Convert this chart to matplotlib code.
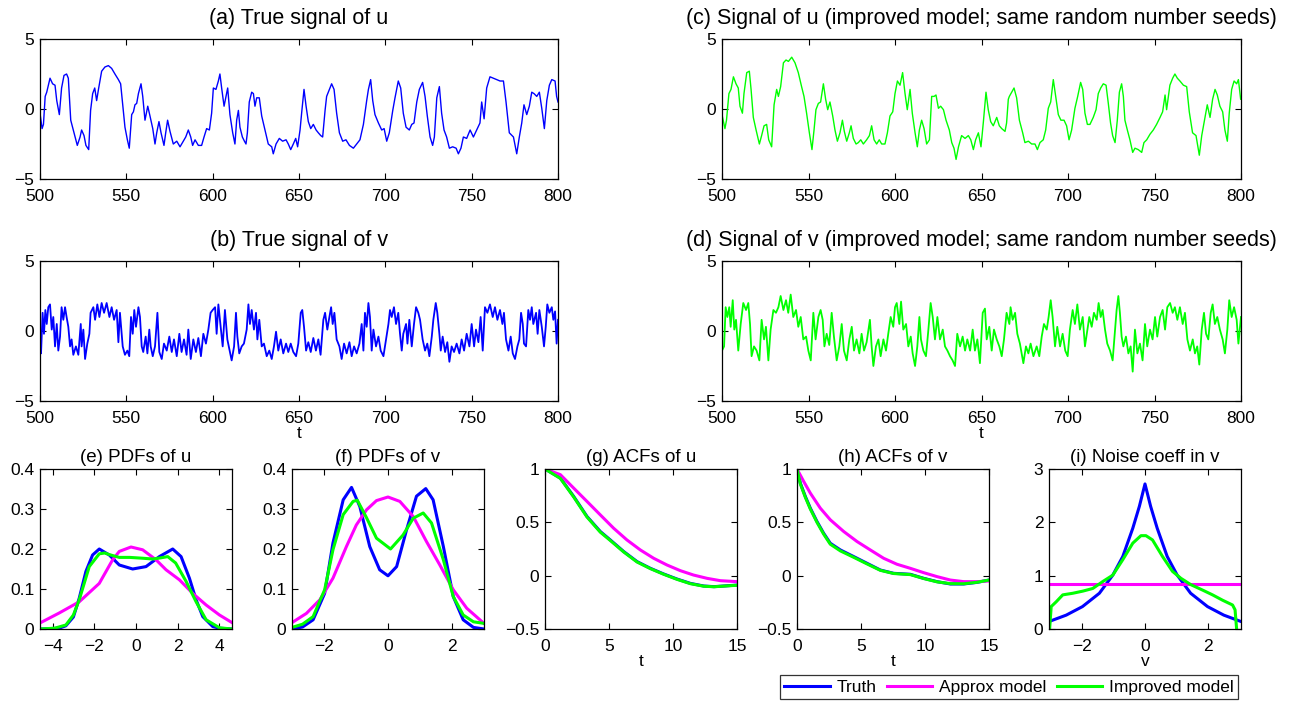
import matplotlib
matplotlib.use("Agg")
import matplotlib.pyplot as plt
from matplotlib.ticker import FuncFormatter

plt.rcParams['font.family'] = ['Liberation Sans', 'DejaVu Sans']
plt.rcParams['font.size'] = 12.5

# ---- time series (t, value) ----
ta = [500, 501.2, 502, 503, 503.9, 505.8, 507.3, 508.7, 509.7, 511.2, 512.5, 513.9, 515.4, 516.4, 517.8, 519.7,
      521.6, 523.2, 524.1, 525.5, 526.6, 528.2, 529.3, 530.5, 531.7, 532.8, 534, 535.7, 537.6, 539.6, 541.5, 543.4,
      545.4, 546.7, 547.9, 549.2, 550.6, 551.7, 553.1, 554.1, 555, 556, 557, 558.5, 559.5, 560.8, 562.4, 563.7,
      565.3, 566.6, 567.6, 568.9, 570.1, 571.8, 572.8, 573.9, 575.3, 577.2, 579.2, 581.1, 583, 584.4, 585.9, 587.3,
      588.4, 589.8, 591.7, 593.6, 595, 596.5, 598.1, 599.4, 600.4, 601.9, 603.3, 604.2, 605.2, 606.6, 607.7, 608.7,
      610, 611.6, 612.9, 613.9, 614.9, 615.8, 617.2, 618.4, 619.3, 620.1, 621.2, 622.6, 623.6, 624.5, 625.5, 627,
      628.4, 630.3, 632.2, 634.2, 635.1, 636.7, 638.6, 640.5, 642.5, 643.8, 645.2, 646.7, 648.1, 649.2, 650.6, 651.6,
      652.9, 654.1, 655.4, 656.8, 658.3, 659.9, 661.2, 662.6, 663.7, 665.1, 666, 668.9, 670.3, 671.8, 673.4, 675.3,
      677.2, 679.2, 681.5, 683.4, 685.3, 687.3, 689.2, 690.2, 691.5, 692.7, 694, 696, 697.9, 699.3, 700.8, 702.3,
      704.3, 705.6, 707.5, 708.9, 710.4, 712, 713.9, 715.3, 716.6, 718.2, 719.7, 721.6, 723, 724.3, 725.9, 727.4,
      728.4, 729.8, 731.3, 732.6, 734, 735.5, 737.1, 739, 741, 742.3, 743.8, 745.2, 747.1, 749.1, 751, 752.9,
      754.8, 755.8, 757.2, 758.7, 760.6, 762.6, 764.5, 766.4, 768.4, 769.9, 771.8, 774.2, 776.1, 777.6, 779, 780.3,
      781.9, 783.4, 784.8, 786.1, 787.7, 789.2, 790.6, 792.1, 793.5, 795, 796.4, 798.3, 799.2, 800]
u_true = [-0.3, -1.4, -1.1, 0.9, 1.2, 2.2, 1.8, 1.7, 0.6, -0.4, 1.5, 2.4, 2.5, 2.2, -0.8, -1.7,
          -2.6, -2.0, -1.5, -1.9, -2.6, -2.9, -0.1, 1.1, 1.5, 0.6, 1.5, 2.7, 3.0, 3.1, 2.9, 2.5,
          2.1, 1.8, 0.3, -1.3, -2.2, -2.8, -0.4, -0.2, 0.3, 0.4, 1.1, 1.8, 0.9, -0.8, 0.2, -0.5,
          -1.4, -2.5, -1.7, -0.9, -1.7, -2.6, -1.7, -0.8, -1.6, -2.5, -2.3, -2.7, -2.3, -2.0, -1.5, -2.0,
          -2.6, -2.2, -2.6, -2.6, -2.0, -1.4, -1.5, -0.3, 1.5, 1.4, 2.0, 2.5, 1.5, 0.2, 0.9, 1.5,
          -0.4, -1.7, -2.5, -0.8, -0.1, -1.3, -2.0, -2.3, -2.5, -1.7, 0.5, 1.2, 1.1, 0.2, 0.8, 0.8,
          -0.5, -1.5, -2.5, -2.7, -3.2, -2.5, -2.1, -2.3, -2.2, -2.5, -2.9, -2.5, -2.1, -2.7, -1.5, -0.2,
          1.4, 0.2, -0.9, -1.4, -1.1, -1.5, -1.7, -1.9, -2.0, -0.1, 0.9, 1.8, 1.4, -0.3, -1.7, -2.3,
          -2.2, -2.6, -2.8, -2.5, -2.2, -1.1, 0.6, 1.4, 2.1, 0.6, -0.4, -1.0, -1.5, -1.4, -2.3, -1.7,
          -0.1, 0.8, 2.0, 1.5, -0.3, -1.3, -1.5, -1.1, -1.0, 0.5, 1.4, 1.9, 0.9, -0.5, -2.0, -2.6,
          -2.0, 0.8, 1.6, -0.3, -1.5, -2.0, -2.8, -2.7, -2.8, -3.2, -2.8, -2.0, -2.1, -1.5, -2.0, -1.5,
          -1.0, 0.5, -0.7, 1.5, 2.3, 2.2, 2.1, 2.0, 2.0, 0.5, -1.7, -2.0, -3.2, -2.0, -1.0, 0.3,
          -0.4, 0.2, 1.2, 1.1, 0.9, 1.2, 0.05, -1.4, 0.6, 1.7, 2.1, 2.0, 0.9, 0.5]

tc = [500, 501.7, 502.6, 504, 505.2, 506.6, 508.1, 509.4, 510.4, 511.8, 512.7, 514.3, 515.8, 516.8, 518.1, 519.7,
      521.6, 522.9, 524.3, 525.8, 527, 528.7, 530.1, 531.6, 532.6, 533.9, 535.5, 537, 538.4, 540.3, 542.2, 544.1,
      546, 547.4, 548.9, 550.5, 552, 553.2, 554.3, 555.7, 557, 558.6, 559.9, 561.1, 562.4, 564, 565.3, 566.7,
      568.2, 569.6, 570.7, 572.1, 573.6, 574.6, 575.9, 577.5, 578.8, 580.2, 581.7, 583.6, 585.2, 586.5, 587.9, 589.4,
      590.9, 592.3, 594.2, 595.6, 597.1, 598.7, 600, 601.4, 602.9, 604.4, 605.8, 607.1, 608.7, 610, 611.6, 612.9,
      614.1, 615.4, 616.8, 618.3, 619.9, 621.2, 622.6, 623.7, 625.1, 626.4, 628, 629.5, 631.4, 632.8, 634.1, 635.3,
      636.7, 638.5, 640.5, 642.4, 643.8, 645.3, 646.6, 648.2, 649.7, 651.1, 652.6, 653.9, 655.3, 656.8, 658.8, 660.3,
      661.7, 663.6, 664.5, 665.5, 666.1, 668.8, 670.3, 671.9, 673.8, 675.1, 677.1, 679, 680.9, 682.3, 683.8, 685.7,
      687.1, 688.6, 690, 691.5, 692.9, 694.4, 695.9, 697.7, 699.2, 700.6, 702.1, 704, 705.6, 707.3, 708.5, 709.8,
      711.2, 712.7, 714.6, 716.2, 717.5, 718.9, 720.4, 722, 723.3, 724.6, 725.8, 727.2, 728.5, 729.7, 731, 732,
      732.9, 734.3, 735.8, 737.4, 738.7, 740.6, 742.6, 743.9, 745.5, 747.4, 749.3, 751.2, 753.2, 754.7, 756.1, 757,
      758.9, 760.5, 761.8, 763.2, 764.7, 766.7, 768.6, 770.1, 772, 774, 775.9, 777.3, 779.2, 780.5, 782.1, 783.6,
      785, 786.3, 787.8, 789.4, 790.7, 792.1, 793.2, 794.6, 796, 797.5, 798.5, 799.8]
u_impr = [-0.4, -1.4, -0.8, 1.1, 1.4, 2.3, 1.8, 1.5, 0.2, -0.3, 1.1, 2.6, 2.7, 1.4, -0.6, -1.5,
          -2.5, -1.9, -1.2, -1.1, -2.2, -2.7, 0.3, 1.4, 0.9, 1.6, 3.3, 3.5, 3.4, 3.7, 3.3, 2.6,
          1.6, 0.9, -0.3, -1.7, -2.9, -1.5, -0.05, 0.4, 0.5, 1.8, 0.7, -0.05, 0.5, -0.5, -1.5, -2.3,
          -1.7, -0.8, -1.6, -2.3, -1.7, -1.2, -2.1, -2.5, -2.4, -2.2, -2.5, -2.2, -1.9, -1.2, -2.2, -2.5,
          -2.2, -2.5, -2.5, -1.7, -0.5, -0.2, 1.1, 2.0, 1.7, 2.6, 1.1, -0.05, 1.4, -0.3, -1.7, -2.7,
          -1.5, -0.8, -1.4, -2.5, -2.2, 0.9, 0.9, 1.0, 0.05, 0.2, -0.05, -0.8, -1.5, -2.4, -2.8, -3.6,
          -2.7, -1.9, -2.1, -1.9, -2.2, -2.9, -2.2, -1.7, -2.7, -0.9, 1.2, -0.05, -0.9, -1.2, -0.6, -1.2,
          -1.4, -1.6, -1.0, 0.7, 0.9, 1.5, 0.8, -0.8, -1.7, -2.4, -2.3, -2.5, -2.5, -2.9, -2.4, -2.2,
          -1.5, 0.05, 0.5, 2.1, 0.9, -0.4, -0.8, -0.8, -1.2, -2.2, -1.5, 0.05, 0.9, 1.9, 1.4, -0.3,
          -1.1, -1.1, -0.6, -0.05, 1.1, 1.5, 1.8, 1.7, 0.4, -1.0, -1.9, -2.4, -0.8, 1.2, 1.8, 0.9,
          -0.8, -1.5, -2.2, -3.1, -2.8, -2.9, -3.1, -2.4, -2.2, -1.8, -1.5, -1.1, -0.6, -0.2, 1.0, -0.05,
          1.7, 2.2, 2.5, 2.2, 2.0, 1.7, 1.6, -0.2, -1.7, -1.9, -3.3, -1.9, -0.6, 0.3, -0.6, 0.7,
          1.4, 1.0, 0.2, -0.2, -1.5, -2.3, -0.3, 1.4, 2.0, 1.8, 2.1, 0.7]

tb = [500, 500.6, 501.5, 502.3, 503.1, 503.9, 504.8, 505.8, 506.8, 507.7, 508.7, 509.7, 510.6, 511.6, 512.5, 513.5,
      514.5, 515.4, 516.4, 517.4, 518.3, 519.3, 520.8, 522.2, 523.6, 524.1, 525.1, 526.1, 527.4, 528.6, 529.3, 530.9,
      531.9, 533.2, 534.4, 535.7, 537.1, 538.6, 540.2, 541.5, 542.9, 544.4, 545.4, 546.3, 547.9, 549.2, 550.6, 551.7,
      552.7, 553.7, 554.6, 555.6, 557, 557.9, 558.9, 559.8, 561.2, 562.2, 563.3, 564.1, 565.3, 566.6, 568, 569.1,
      570.5, 571.8, 573.4, 574.9, 576.3, 577.6, 579.2, 580.7, 582, 583.4, 584.9, 585.9, 587.3, 588.8, 590.3, 591.7,
      593.2, 594.6, 596.1, 597.5, 598.8, 600, 601.4, 602.3, 603.3, 604.2, 605.8, 607.1, 608.5, 610, 611, 612.4,
      613.5, 614.3, 615.4, 616.8, 618.1, 619.7, 620.7, 621.6, 622.6, 623.9, 625.1, 625.9, 627, 628.4, 629.7, 631.3,
      632.8, 634.2, 635.5, 636.7, 638, 639.4, 640.9, 642.5, 643.8, 645.2, 646.7, 648.3, 649.6, 651, 651.9, 652.9,
      654.1, 655.4, 656.8, 658.3, 659.8, 661.2, 662.5, 664.1, 665.1, 666.4, 667.6, 668.6, 669.5, 670.5, 671.8, 673.4,
      674.7, 676.1, 677.6, 679.2, 680.5, 681.9, 683.4, 685, 686.3, 687.3, 688.2, 689.2, 690.2, 691.1, 692.1, 693.1,
      694.6, 696, 697.3, 698.9, 700.4, 701.8, 702.7, 703.7, 705, 706.2, 707.5, 708.5, 709.5, 710.4, 712, 712.8,
      713.9, 715.3, 716.6, 717.8, 719.1, 720.1, 721.6, 723, 724.3, 725.5, 726.9, 727.8, 729.2, 730.1, 731.3, 732.1,
      733.2, 734.6, 735.9, 737.1, 738.4, 739.8, 741.3, 742.9, 744.2, 745.6, 747.1, 748.7, 750, 751.4, 752.5, 753.9,
      755.2, 756.4, 757.7, 759.1, 760.6, 762.2, 763.5, 764.9, 766.4, 767.8, 768.7, 769.9, 771.3, 772.6, 773.8, 775.1,
      776.5, 777.6, 778.6, 779.6, 780.3, 781.5, 782.8, 783.8, 784.8, 785.7, 787.3, 788.2, 789.2, 790.6, 791.9, 792.9,
      793.8, 795, 796.4, 797.3, 798.3, 799.2, 800]
v_true = [-1.1, -1.6, 1.3, -0.2, 1.5, 0.5, 1.7, 1.9, 0.1, 1.0, -1.1, 0.5, -1.4, -0.4, 1.7, 0.8,
          1.7, 1.0, 0.3, -1.1, -0.6, -1.7, -1.1, -1.7, 0.5, -1.1, 0.1, -2.0, -0.9, -0.2, 1.3, 1.7,
          0.8, 1.9, 1.0, 2.0, 1.3, 2.0, 1.0, 1.7, 0.8, 1.5, -0.8, 1.3, -1.1, -1.7, -1.4, -1.8,
          1.0, -0.2, 1.5, 0.3, 1.7, 1.0, -1.1, -1.5, -0.4, -1.6, 0.1, -1.1, -1.8, -1.1, 1.3, -1.5,
          -2.0, -0.9, -1.4, -0.4, -1.5, -0.6, -1.8, -0.2, -1.5, -0.6, -1.7, 0.1, -2.0, -0.6, -1.5, -0.5,
          -1.8, -0.2, -0.9, 0.1, 1.3, 1.5, 1.7, -0.2, 1.9, 0.8, -1.1, 1.5, -0.6, -1.5, -2.1, -1.1,
          1.3, -0.4, -1.6, -1.1, -0.9, 0.1, 1.9, 0.5, 1.5, 0.1, 1.3, -0.6, 0.8, -1.1, -0.9, -1.8,
          -1.4, -2.0, -1.1, -0.05, -1.4, -0.6, -1.6, -0.9, -1.5, -0.9, -1.5, -1.8, -0.9, 1.3, 1.5, 0.3,
          -1.4, -0.8, -1.5, -0.5, -1.4, -0.6, -1.7, 0.8, 1.3, 0.1, 1.0, 1.7, 0.5, 1.3, -0.6, -1.1,
          -2.0, -0.9, -1.6, -0.8, -1.8, -1.1, -1.6, -0.9, 0.5, -1.4, 1.3, 0.3, 2.0, 1.0, -1.4, 0.1,
          -1.1, -0.4, -1.4, -1.8, -0.6, 0.5, 1.5, 1.0, 1.7, 0.5, 1.3, -0.2, -1.4, -0.2, 0.5, -0.9,
          0.8, -1.1, 0.5, 1.7, 1.3, 0.8, -0.6, -1.4, -0.9, -1.8, -0.4, 0.8, 2.0, 1.3, -0.2, -1.4,
          -0.4, -1.5, -0.8, -2.2, -1.1, -1.5, -0.9, -1.6, -0.6, -1.4, -0.2, -1.1, 0.5, -1.1, 0.1, -0.8,
          1.0, -1.4, 1.7, 1.3, 1.9, 1.0, 1.7, 0.8, 1.5, 0.5, 1.3, -0.6, -1.4, -0.4, -1.6, -2.0,
          -1.1, -0.6, 1.3, 0.5, -0.9, -1.1, 1.5, 0.8, 1.7, 0.5, 1.3, -0.2, 1.5, 0.3, -1.1, 0.3,
          1.9, 1.3, 1.7, 0.8, 1.4, -0.9, 0.8]

td = [500, 501.2, 502.1, 503.1, 504.2, 505, 506.2, 507.1, 508.1, 509.4, 510.8, 512.3, 513.9, 515.2, 516.2, 517.1,
      518.5, 520, 521.6, 522.9, 524.3, 525.4, 526.8, 528.1, 529.7, 531.2, 532.6, 533.9, 535.5, 537, 538.3, 539.7,
      541.2, 542.8, 544.1, 545.5, 547, 548.6, 549.9, 551.3, 552.8, 554.1, 555.7, 557, 558.2, 559.2, 560.5, 562,
      563.4, 564.7, 566.3, 567.8, 569.2, 570.5, 572.1, 573.6, 575, 576.3, 577.8, 579.4, 580.7, 582.1, 583.6, 585.5,
      586.5, 587.5, 589, 590.4, 591.7, 593.3, 594.8, 596.1, 597.5, 599, 600, 601, 602.5, 603.5, 604.8, 606.4,
      607.7, 609.1, 610.2, 611.6, 612.9, 614.1, 615, 616.4, 617.9, 619.3, 620.6, 621.8, 623.1, 624.5, 626, 627.6,
      628.9, 630.3, 631.8, 633.3, 634.7, 636, 637.6, 639.1, 640.5, 641.8, 643.4, 644.9, 646.2, 647.6, 649.1, 650.7,
      652, 653, 654.5, 655.9, 657.2, 658.8, 660.3, 661.7, 663, 664.5, 666.1, 666.8, 668, 669.4, 670.7, 672.2,
      674.2, 675.7, 677.1, 678.4, 680, 681.9, 683.4, 684.8, 686.1, 687.7, 688.8, 690, 691.1, 692.5, 693.8, 695.4,
      696.9, 698.4, 699.8, 701.1, 702.7, 704, 705.4, 706.9, 708.5, 709.8, 711.2, 712.3, 713.7, 715, 716.6, 717.7,
      718.9, 720, 721.4, 722.7, 724.3, 725.8, 727.2, 728.1, 729.1, 730, 731, 732, 733.5, 734.9, 736.2, 737.4,
      738.7, 740.1, 741.6, 743.1, 744.5, 745.8, 747.4, 748.9, 750.3, 751.6, 753.2, 754.7, 756.1, 757.4, 759, 760.5,
      761.8, 763.2, 764.7, 766.3, 767.6, 769, 770.5, 772.1, 773.4, 774.7, 775.9, 777.3, 778.6, 779.8, 781.1, 782.5,
      783.6, 784.9, 786.3, 787.8, 789.4, 790.7, 792.1, 793.2, 794.6, 796, 797.5, 798.5, 800]
v_impr = [-1.4, -1.1, 1.7, 1.0, 1.7, 0.3, 2.2, 0.1, 0.8, -1.4, 0.5, 2.0, 1.5, 2.0, 0.5, -1.8,
          -1.1, -1.4, -2.1, 0.8, -0.6, 0.3, -2.1, 0.1, 1.5, 1.3, 1.7, 2.5, 1.5, 2.2, 1.3, 2.6,
          1.0, 1.5, 0.3, 1.0, -0.6, -0.4, -1.4, -2.1, 1.3, -0.6, 1.0, 1.5, 0.8, -1.1, -0.2, -1.0,
          1.3, -0.4, -2.1, -1.1, 0.5, -1.4, -2.1, -0.6, 0.3, -1.4, -0.6, -1.6, -0.2, -1.4, -0.8, 0.8,
          -1.1, -2.5, -1.1, -0.6, -1.8, -0.6, -1.4, -0.2, 1.0, 0.3, 1.7, 2.0, 0.5, 2.1, 0.1, 0.5,
          -1.1, -0.4, -1.6, -2.5, -1.1, 1.0, -0.6, -1.4, -1.8, 0.1, 2.0, 1.0, -0.6, 1.0, -0.6, 0.1,
          -1.1, -1.4, -1.8, -2.1, -2.5, -0.2, -1.1, -0.4, -1.4, -0.6, -1.4, 0.1, -1.4, -0.6, -2.3, 1.3,
          1.6, -0.6, 0.3, -1.4, 0.1, -0.6, -1.1, -1.8, -0.6, 1.3, 0.5, 1.7, 0.8, 1.3, -0.2, -0.9,
          -2.3, -1.1, -1.6, -0.9, -1.8, -1.1, -1.8, -0.4, 0.5, 0.1, 1.0, 2.2, 1.0, -1.1, 0.3, -1.1,
          -0.2, -1.4, -1.8, 0.1, 1.5, 0.5, 1.9, 0.1, 1.0, -1.1, 0.1, 1.0, 0.3, 1.3, 0.8, 2.0,
          1.0, 1.5, 0.1, -0.9, -1.4, -2.1, 0.1, 1.5, 2.5, 1.3, -0.4, -1.1, -0.4, -1.6, -1.1, -2.9,
          0.1, -1.6, -0.9, -2.1, 0.5, -1.1, 0.1, -0.6, 1.0, -0.4, 1.0, 1.5, 0.1, 1.7, 2.0, 1.3,
          1.7, 0.8, 1.7, 0.5, 1.3, -0.6, -1.4, -0.6, -1.6, -1.1, -2.4, 0.1, 1.3, -0.2, -0.6, 1.3,
          1.9, 0.5, 1.0, 0.1, -0.6, -1.6, 0.1, 2.2, 1.0, 1.7, 0.8, -0.9, 1.0]

# ---- PDFs ----
xe_true = [-4.6, -3.68, -3.36, -3.0, -2.72, -2.4, -2.08, -1.76, -1.28, -0.8, -0.16, 0.48, 1.12, 1.76, 2.16, 2.56,
           2.88, 3.2, 3.68, 4.0, 4.6]
pe_true = [0.0, 0.002, 0.008, 0.03, 0.077, 0.144, 0.185, 0.2, 0.185, 0.16, 0.15, 0.156, 0.181, 0.2, 0.181, 0.127,
           0.073, 0.031, 0.006, 0.002, 0.0]
xe_appr = [-4.64, -3.68, -2.72, -1.76, -1.12, -0.8, -0.24, 0.32, 0.96, 1.44, 2.08, 2.72, 3.36, 4.0, 4.6]
pe_appr = [0.014, 0.04, 0.068, 0.114, 0.173, 0.194, 0.205, 0.198, 0.173, 0.148, 0.123, 0.089, 0.06, 0.035, 0.016]
xe_impr = [-4.6, -3.9, -3.36, -3.0, -2.72, -2.24, -1.76, -1.5, -1.28, -0.8, -0.3, 0.3, 0.8, 1.2, 1.52, 1.9,
           2.4, 2.88, 3.36, 4.0, 4.6]
pe_impr = [0.0, 0.002, 0.01, 0.035, 0.073, 0.156, 0.188, 0.19, 0.186, 0.179, 0.179, 0.177, 0.175, 0.178, 0.181, 0.165,
           0.119, 0.068, 0.023, 0.003, 0.0]

xf_true = [-3.0, -2.67, -2.34, -1.98, -1.72, -1.4, -1.14, -0.88, -0.57, -0.26, 0.0, 0.27, 0.58, 0.89, 1.18, 1.41,
           1.73, 2.04, 2.35, 2.67, 3.0]
pf_true = [0.0, 0.005, 0.023, 0.089, 0.215, 0.323, 0.354, 0.306, 0.206, 0.148, 0.133, 0.156, 0.248, 0.332, 0.351, 0.323,
           0.206, 0.081, 0.023, 0.004, 0.0]
xf_appr = [-3.0, -2.55, -2.13, -1.72, -1.3, -0.99, -0.67, -0.36, 0.0, 0.37, 0.79, 1.2, 1.62, 2.04, 2.46, 3.0]
pf_appr = [0.016, 0.039, 0.073, 0.127, 0.206, 0.26, 0.298, 0.321, 0.33, 0.319, 0.281, 0.219, 0.16, 0.098, 0.052, 0.014]
xf_impr = [-3.0, -2.67, -2.34, -1.98, -1.72, -1.4, -1.09, -0.96, -0.67, -0.36, 0.08, 0.47, 0.79, 1.1, 1.36, 1.73,
           2.04, 2.35, 2.67, 3.0]
pf_impr = [0.004, 0.012, 0.031, 0.098, 0.198, 0.286, 0.319, 0.322, 0.278, 0.227, 0.2, 0.235, 0.277, 0.29, 0.265, 0.173,
           0.081, 0.035, 0.018, 0.014]

# ---- ACFs ----
lag_u = [0, 1.2, 2.24, 3.28, 4.32, 5.1, 6.15, 7.19, 8.23, 9.27, 10.3, 11.35, 12.4, 13.2, 13.96, 15]
acf_u_true = [1, 0.915, 0.743, 0.555, 0.414, 0.335, 0.226, 0.132, 0.069, 0.016, -0.031, -0.072, -0.097, -0.103, -0.097, -0.088]
acf_u_impr = [1, 0.912, 0.738, 0.55, 0.408, 0.33, 0.222, 0.128, 0.066, 0.013, -0.034, -0.075, -0.099, -0.104, -0.098, -0.09]
lag_ua = [0, 1.2, 2.24, 3.28, 4.32, 5.36, 6.4, 7.45, 8.49, 9.53, 10.57, 11.6, 12.66, 13.7, 15]
acf_u_appr = [1, 0.947, 0.821, 0.696, 0.57, 0.445, 0.335, 0.241, 0.163, 0.1, 0.047, 0.006, -0.025, -0.047, -0.056]

lag_v = [0, 0.26, 0.65, 1.04, 1.56, 2.08, 2.6, 3.39, 4.43, 5.47, 6.51, 7.55, 8.85, 9.9, 10.94, 11.98, 13.02, 14.06, 15]
acf_v_true = [1, 0.868, 0.743, 0.633, 0.508, 0.398, 0.304, 0.241, 0.179, 0.116, 0.053, 0.022, 0.013, -0.025, -0.056,
              -0.078, -0.078, -0.063, -0.041]
acf_v_impr = [1, 0.86, 0.735, 0.625, 0.5, 0.39, 0.295, 0.232, 0.172, 0.11, 0.05, 0.02, 0.01, -0.027, -0.058,
              -0.075, -0.076, -0.062, -0.041]
lag_va = [0, 0.52, 1.04, 1.82, 2.6, 3.65, 4.69, 5.73, 6.77, 7.81, 8.85, 9.9, 10.94, 11.98, 13.02, 14.06, 15]
acf_v_appr = [1, 0.884, 0.774, 0.633, 0.524, 0.414, 0.32, 0.241, 0.163, 0.107, 0.069, 0.028, -0.009, -0.041, -0.056,
              -0.056, -0.05]

# ---- noise coefficient ----
vn_true = [-3.07, -2.52, -2.0, -1.46, -1.03, -0.71, -0.39, -0.18, 0.0, 0.18, 0.39, 0.71, 1.03, 1.46, 2.0, 2.52, 3.07]
g_true = [0.14, 0.26, 0.42, 0.67, 1.01, 1.36, 1.89, 2.3, 2.72, 2.3, 1.89, 1.36, 1.01, 0.67, 0.42, 0.26, 0.14]
vn_appr = [-3.07, 3.07]
g_appr = [0.84, 0.84]
vn_impr = [-3.05, -3.0, -2.84, -2.63, -2.31, -1.99, -1.67, -1.35, -1.03, -0.71, -0.39, -0.13, 0.03, 0.24, 0.56, 0.88,
           1.15, 1.47, 1.84, 2.16, 2.48, 2.8, 2.88, 2.93]
g_impr = [0.0, 0.42, 0.51, 0.64, 0.67, 0.71, 0.76, 0.89, 1.01, 1.3, 1.61, 1.75, 1.75, 1.67, 1.36, 1.08,
          0.95, 0.83, 0.73, 0.64, 0.54, 0.45, 0.36, 0.0]

BLUE = (0, 0, 1)
MAG = (1, 0, 1)
GRN = (0, 1, 0)

W, H = 1292, 708
fig = plt.figure(figsize=(W / 100, H / 100), dpi=100)


def box(x0, x1, y0, y1):
    return fig.add_axes([x0 / W, 1 - y1 / H, (x1 - x0) / W, (y1 - y0) / H])


fmt = FuncFormatter(lambda v, p: ('%g' % v).replace('-', '\u2212'))


def style(ax):
    ax.tick_params(direction='in', top=True, right=True, length=4, width=0.8, labelsize=12.5)
    ax.tick_params(axis='x', pad=7)
    ax.tick_params(axis='y', pad=4)
    ax.xaxis.set_major_formatter(fmt)
    ax.yaxis.set_major_formatter(fmt)
    for s in ax.spines.values():
        s.set_linewidth(0.9)


# top signals
sig = [(40, 558, 39, 179, ta, u_true, BLUE, '(a) True signal of u', False),
       (722, 1241, 39, 179, tc, u_impr, GRN, '(c) Signal of u (improved model; same random number seeds)', False),
       (40, 558, 261, 401, tb, v_true, BLUE, '(b) True signal of v', True),
       (722, 1241, 261, 401, td, v_impr, GRN, '(d) Signal of v (improved model; same random number seeds)', True)]
for x0, x1, y0, y1, t, y, c, title, lab in sig:
    ax = box(x0, x1, y0, y1)
    ax.plot(t, y, color=c, lw=1.3 if lab else 1.0)
    ax.set_xlim(500, 800)
    ax.set_ylim(-5, 5)
    ax.set_xticks(range(500, 801, 50))
    ax.set_yticks([-5, 0, 5])
    style(ax)
    ax.set_title(title, fontsize=15.5, pad=11)
    if lab:
        ax.set_xlabel('t', labelpad=0)

# bottom row
LW = 2.2
ax = box(40, 232, 469, 629)
ax.plot(xe_true, pe_true, color=BLUE, lw=LW)
ax.plot(xe_appr, pe_appr, color=MAG, lw=LW)
ax.plot(xe_impr, pe_impr, color=GRN, lw=LW)
ax.set_xlim(-4.6, 4.6)
ax.set_ylim(0, 0.4)
ax.set_xticks([-4, -2, 0, 2, 4])
ax.set_yticks([0, 0.1, 0.2, 0.3, 0.4])
style(ax)
ax.set_title('(e) PDFs of u', fontsize=13.5, pad=5)

ax = box(292, 484, 469, 629)
ax.plot(xf_true, pf_true, color=BLUE, lw=LW)
ax.plot(xf_appr, pf_appr, color=MAG, lw=LW)
ax.plot(xf_impr, pf_impr, color=GRN, lw=LW)
ax.set_xlim(-3, 3)
ax.set_ylim(0, 0.4)
ax.set_xticks([-2, 0, 2])
ax.set_yticks([0, 0.1, 0.2, 0.3, 0.4])
style(ax)
ax.set_title('(f) PDFs of v', fontsize=13.5, pad=5)

ax = box(545, 737, 469, 629)
ax.plot(lag_u, acf_u_true, color=BLUE, lw=LW)
ax.plot(lag_ua, acf_u_appr, color=MAG, lw=LW)
ax.plot(lag_u, acf_u_impr, color=GRN, lw=LW)
ax.set_xlim(0, 15)
ax.set_ylim(-0.5, 1)
ax.set_xticks([0, 5, 10, 15])
ax.set_yticks([-0.5, 0, 0.5, 1])
style(ax)
ax.set_title('(g) ACFs of u', fontsize=13.5, pad=5)
ax.set_xlabel('t', labelpad=0)

ax = box(797, 989, 469, 629)
ax.plot(lag_v, acf_v_true, color=BLUE, lw=LW)
ax.plot(lag_va, acf_v_appr, color=MAG, lw=LW)
ax.plot(lag_v, acf_v_impr, color=GRN, lw=LW)
ax.set_xlim(0, 15)
ax.set_ylim(-0.5, 1)
ax.set_xticks([0, 5, 10, 15])
ax.set_yticks([-0.5, 0, 0.5, 1])
style(ax)
ax.set_title('(h) ACFs of v', fontsize=13.5, pad=5)
ax.set_xlabel('t', labelpad=0)

ax = box(1049, 1241, 469, 629)
h1, = ax.plot(vn_true, g_true, color=BLUE, lw=LW)
h2, = ax.plot(vn_appr, g_appr, color=MAG, lw=LW)
h3, = ax.plot(vn_impr, g_impr, color=GRN, lw=LW)
ax.set_xlim(-3.07, 3.07)
ax.set_ylim(0, 3)
ax.set_xticks([-2, 0, 2])
ax.set_yticks([0, 1, 2, 3])
style(ax)
ax.set_title('(i) Noise coeff in v', fontsize=13.5, pad=5)
ax.set_xlabel('v', labelpad=0)

leg = fig.legend([h1, h2, h3], ['Truth', 'Approx model', 'Improved model'], loc='center',
                 bbox_to_anchor=(1009 / W, 1 - 687 / H), ncol=3, frameon=True, fancybox=False,
                 edgecolor='black', fontsize=12.5, handlelength=2.6, columnspacing=0.6,
                 handletextpad=0.4, borderpad=0.25, borderaxespad=0)
leg.get_frame().set_linewidth(0.9)

fig.savefig('out.png', dpi=100)
